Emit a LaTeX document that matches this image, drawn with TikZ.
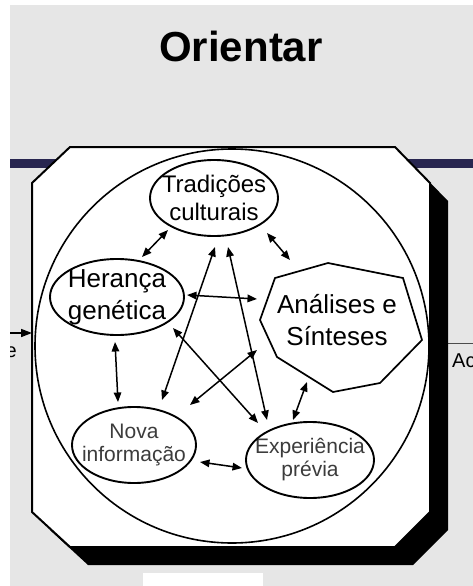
\documentclass[tikz,border=0pt]{standalone}
\usepackage{fontspec}
\setmainfont{Liberation Sans}
\usetikzlibrary{arrows.meta,calc}
\definecolor{bg}{HTML}{E6E6E6}
\definecolor{barc}{RGB}{40,38,80}
\definecolor{txtg}{HTML}{3C3C3C}
\begin{document}
\begin{tikzpicture}[x=1pt,y=-1pt,
  arr/.style={{Triangle[length=9.5pt,width=7.5pt]}-{Triangle[length=9.5pt,width=7.5pt]}, line width=1.5pt},
  ell/.style={line width=1.9pt},
  lbl/.style={align=center, inner sep=0pt, text=black},
  big/.style={font=\fontsize{26}{32}\selectfont},
  mid/.style={font=\fontsize{24}{28}\selectfont},
  small/.style={font=\fontsize{21}{23}\selectfont, text=txtg}]
\useasboundingbox (0,0) rectangle (473,586);
\fill[bg] (0,0) rectangle (473,586);
\fill[white] (143,573) rectangle (263,586);
\fill[barc] (10,159) rectangle (473,168);
% outside connectors and cut-off labels
\coordinate (rin) at (440,343);
\coordinate (rout) at (473,343);
\draw[black!70, line width=1pt] (rin) -- (rout);
\node[font=\fontsize{20}{24}\selectfont, anchor=base west, inner sep=0pt] (ac) at (452,367) {Ac};
\node[font=\fontsize{20}{24}\selectfont, anchor=base east, inner sep=0pt] (e) at (17,357) {e};
\coordinate (lout) at (4,333);
\coordinate (lin) at (32,333);
\draw[-{Triangle[length=11pt,width=8pt]}, line width=1.6pt] (lout) -- (lin);
\fill[white] (0,0) rectangle (10,586);
\fill[white] (0,0) rectangle (473,5);
% title
\node[font=\fontsize{42}{50}\selectfont\bfseries, anchor=base, inner sep=0pt] (title) at (241,62) {Orientar};
% shadow and frame
\fill[black] (88,165) -- (413,165) -- (448,201) -- (448,530) -- (413,565) -- (88,565) -- (50,530) -- (50,201) -- cycle;
\filldraw[fill=white, draw=black, line width=2pt] (70,147) -- (395,147) -- (430,183) -- (430,512) -- (395,547) -- (70,547) -- (32,512) -- (32,183) -- cycle;
\draw[line width=1.6pt] (232,346) circle [radius=197pt];
% nodes
\node[lbl, mid] (trad) at (214,198) {Tradições\\culturais};
\node[lbl, big] (her) at (117,297) {Herança\\genética};
\node[lbl, big] (ana) at (337,320) {Análises e\\Sínteses};
\node[lbl, small] (nova) at (134,445) {Nova\\informação};
\node[lbl, small] (exp) at (310,460) {Experiência\\prévia};
\draw[ell] (trad) ellipse [x radius=64pt, y radius=38pt];
\draw[ell] (her) ellipse [x radius=67pt, y radius=38pt];
\draw[ell] (nova) ellipse [x radius=62pt, y radius=38pt];
\draw[ell] (exp) ellipse [x radius=64pt, y radius=38pt];
\draw[line width=1.7pt] ($(ana)+(-9,-57)$) -- ($(ana)+(66,-42)$) -- ($(ana)+(85,20)$) -- ($(ana)+(43,63)$) -- ($(ana)+(-4,72)$) -- ($(ana)+(-60,37)$) -- ($(ana)+(-77,0)$) -- ($(ana)+(-62,-42)$) -- cycle;
% connectors
\draw[arr] ($(trad)+(-46,32)$) -- ($(her)+(25,-40)$);
\draw[arr] ($(trad)+(53,35)$) -- ($(ana)+(-47,-60)$);
\draw[arr] ($(her)+(70,-2)$) -- ($(ana)+(-80,-21)$);
\draw[arr] ($(nova)+(28,-45)$) -- ($(trad)+(1,49)$);
\draw[arr] ($(exp)+(-43,-40)$) -- ($(trad)+(14,49)$);
\draw[arr] ($(her)+(56,31)$) -- ($(exp)+(-52,-37)$);
\draw[arr] ($(ana)+(-80,30)$) -- ($(nova)+(56,-40)$);
\draw[arr] ($(her)+(-2,45)$) -- ($(nova)+(-16,-43)$);
\draw[arr] ($(nova)+(66,17)$) -- ($(exp)+(-68,8)$);
\draw[arr] ($(ana)+(-30,62)$) -- ($(exp)+(-17,-40)$);
\end{tikzpicture}
\end{document}
